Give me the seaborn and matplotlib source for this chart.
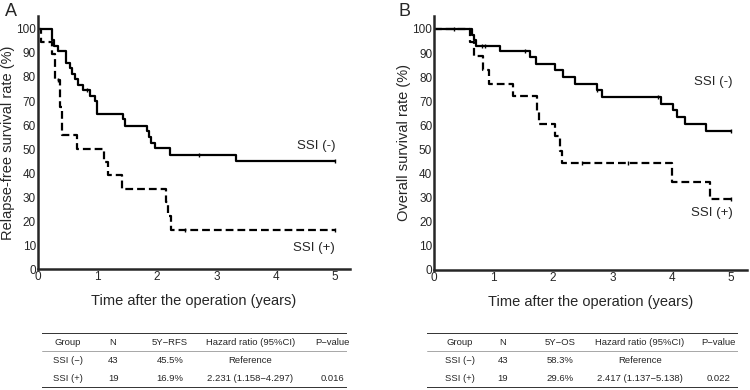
import matplotlib
matplotlib.use("Agg")
import matplotlib.pyplot as plt
import numpy as np
import pandas as pd
import seaborn as sns

# Kaplan-Meier step data (time in years, survival in %)
rfs_neg_time = [0, 0.24, 0.27, 0.34, 0.47, 0.53, 0.58, 0.63, 0.68, 0.76, 0.87, 0.96, 1.00, 1.43, 1.47, 1.83, 1.86, 1.90, 1.97, 2.22, 3.33, 5.0]
rfs_neg_surv = [100, 95.3, 93.0, 90.7, 86.0, 83.7, 81.4, 79.1, 76.7, 74.4, 72.1, 69.8, 64.6, 62.3, 59.7, 57.4, 55.0, 52.7, 50.4, 47.7, 45.0, 45.0]
rfs_neg_censor = [0.83, 2.71, 5.0]

rfs_pos_time = [0, 0.056, 0.24, 0.28, 0.365, 0.41, 0.66, 1.11, 1.18, 1.42, 2.15, 2.19, 2.23, 5.0]
rfs_pos_surv = [100, 94.7, 89.5, 78.8, 67.4, 55.8, 50.2, 44.6, 39.0, 33.4, 27.8, 22.3, 16.2, 16.2]
rfs_pos_censor = [0.33, 2.47, 5.0]

os_neg_time = [0, 0.63, 0.67, 0.70, 1.10, 1.62, 1.72, 2.03, 2.17, 2.37, 2.74, 2.82, 3.82, 4.02, 4.09, 4.23, 4.58, 5.0]
os_neg_surv = [100, 97.7, 95.3, 93.0, 90.7, 88.3, 85.6, 82.8, 80.0, 77.3, 74.5, 71.8, 69.0, 66.2, 63.4, 60.6, 57.8, 57.8]
os_neg_censor = [0.34, 0.80, 0.86, 1.53, 2.75, 3.77, 5.0]

os_pos_time = [0, 0.595, 0.67, 0.82, 0.93, 1.32, 1.73, 1.77, 2.04, 2.12, 2.16, 4.01, 4.65, 5.0]
os_pos_surv = [100, 94.7, 88.9, 83.1, 77.3, 72.0, 65.8, 60.7, 55.4, 49.5, 44.3, 36.6, 29.3, 29.3]
os_pos_censor = [2.49, 3.27, 5.0]

table_header_rfs = ["Group", "N", "5Y\u2212RFS", "Hazard ratio (95%CI)", "P\u2212value"]
table_header_os = ["Group", "N", "5Y\u2212OS", "Hazard ratio (95%CI)", "P\u2212value"]
table_rows_rfs = [
    ["SSI (\u2212)", "43", "45.5%", "Reference", ""],
    ["SSI (+)", "19", "16.9%", "2.231 (1.158\u22124.297)", "0.016"],
]
table_rows_os = [
    ["SSI (\u2212)", "43", "58.3%", "Reference", ""],
    ["SSI (+)", "19", "29.6%", "2.417 (1.137\u22125.138)", "0.022"],
]

sns.set_style("ticks")
plt.rcParams["font.family"] = ["Liberation Sans", "DejaVu Sans"]


def _curve_frame(neg_t, neg_s, pos_t, pos_s):
    return pd.concat([
        pd.DataFrame({"time": neg_t, "surv": neg_s, "group": "SSI (-)"}),
        pd.DataFrame({"time": pos_t, "surv": pos_s, "group": "SSI (+)"}),
    ], ignore_index=True)


def _censor_frame(times, step_t, step_s):
    idx = np.searchsorted(step_t, times, side="right") - 1
    return pd.DataFrame({"time": times, "surv": np.array(step_s)[idx]})


def draw_km(ax, neg_t, neg_s, neg_c, pos_t, pos_s, pos_c, ylabel, xmax):
    df = _curve_frame(neg_t, neg_s, pos_t, pos_s)
    sns.lineplot(
        data=df, x="time", y="surv", style="group",
        dashes={"SSI (-)": "", "SSI (+)": (3.5, 1.8)},
        color="black", linewidth=1.6, drawstyle="steps-post",
        estimator=None, sort=False, legend=False, ax=ax,
    )
    for c, t, s in [(neg_c, neg_t, neg_s), (pos_c, pos_t, pos_s)]:
        sns.scatterplot(
            data=_censor_frame(c, t, s), x="time", y="surv",
            marker="|", s=12, color="black", linewidth=1.0, ax=ax,
        )
    ax.set_xlim(0, xmax)
    ax.set_ylim(0, 105.4)
    ax.set_xticks([0, 1, 2, 3, 4, 5])
    ax.set_yticks(range(0, 101, 10))
    ax.tick_params(length=0, labelsize=8.5, pad=1.5)
    for sp in ["left", "bottom"]:
        ax.spines[sp].set_linewidth(1.8)
    sns.despine(ax=ax)
    ax.set_xlabel("Time after the operation (years)", fontsize=10.5, labelpad=8)
    ax.set_ylabel(ylabel, fontsize=10.5, labelpad=1)


def draw_table(ax, header, rows, col_x):
    ax.set_axis_off()
    ax.set_xlim(0, 1)
    ax.set_ylim(0, 1)
    ax.axhline(1.0, color="#333333", linewidth=1.4)
    ax.axhline(0.67, color="#999999", linewidth=0.6)
    ax.axhline(0.0, color="#333333", linewidth=1.4)
    for x, txt in zip(col_x, header):
        ax.text(x, 0.836, txt, ha="center", va="center", fontsize=6.8)
    for y, row in zip([0.51, 0.18], rows):
        for x, txt in zip(col_x, row):
            ax.text(x, y, txt, ha="center", va="center", fontsize=6.8)


fig = plt.figure(figsize=(7.5, 3.9), dpi=100)
ax_a = fig.add_axes([0.0507, 0.310, 0.416, 0.649])
ax_b = fig.add_axes([0.579, 0.308, 0.417, 0.651])

draw_km(ax_a, rfs_neg_time, rfs_neg_surv, rfs_neg_censor,
        rfs_pos_time, rfs_pos_surv, rfs_pos_censor,
        "Relapse-free survival rate (%)", 5.25)
draw_km(ax_b, os_neg_time, os_neg_surv, os_neg_censor,
        os_pos_time, os_pos_surv, os_pos_censor,
        "Overall survival rate (%)", 5.27)

ax_a.text(5.0, 51.2, "SSI (-)", ha="right", va="center", fontsize=9.5)
ax_a.text(5.0, 8.7, "SSI (+)", ha="right", va="center", fontsize=9.5)
ax_b.text(5.03, 78, "SSI (-)", ha="right", va="center", fontsize=9.5)
ax_b.text(5.03, 23.6, "SSI (+)", ha="right", va="center", fontsize=9.5)

fig.text(0.006, 0.993, "A", fontsize=13, va="top", ha="left")
fig.text(0.532, 0.993, "B", fontsize=13, va="top", ha="left")

tab_a = fig.add_axes([0.056, 0.005, 0.407, 0.141])
tab_b = fig.add_axes([0.569, 0.005, 0.415, 0.141])
draw_table(tab_a, table_header_rfs, table_rows_rfs, [0.085, 0.233, 0.42, 0.682, 0.951])
draw_table(tab_b, table_header_os, table_rows_os, [0.106, 0.244, 0.428, 0.685, 0.936])

fig.savefig("out.png", dpi=100)
